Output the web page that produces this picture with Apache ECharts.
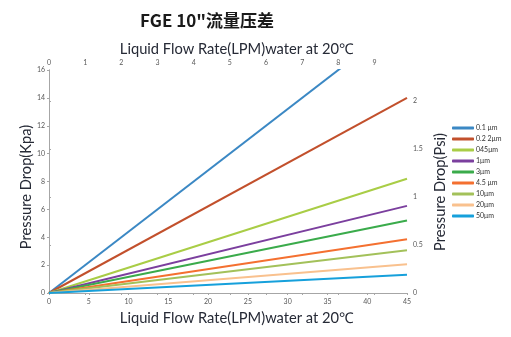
<!DOCTYPE html>
<html>
<head>
<meta charset="utf-8">
<script src="https://cdn.jsdelivr.net/npm/echarts@6/dist/echarts.min.js"></script>
<style>
  html, body { margin: 0; padding: 0; background: #fff; }
  #chart { width: 511px; height: 337px; }
</style>
</head>
<body>
<div id="chart"></div>
<script>
// Flow rate (LPM) at the two ends of each filter line
const flowLPM = [0, 45];
// Pressure drop (kPa) at 45 LPM for each cartridge rating
const ratings = ['0.1 μm', '0.2 2μm', '045μm', '1μm', '3μm', '4.5 μm', '10μm', '20μm', '50μm'];
const dropAt45 = [19.8, 14.0, 8.2, 6.25, 5.2, 3.85, 3.06, 2.06, 1.31];
const colors = ['#3b88c4', '#c2502c', '#a9cd46', '#7b3f9e', '#3aab4b', '#f47030', '#a3c15a', '#f9c18e', '#16a0db'];

// Axis ranges
const kpaMax = 16, kpaStep = 2;
const psiMax = 16 / 6.895, psiStep = 0.5;
const lpmMax = 45, lpmStep = 5;
const galMax = 45 / 4.546, galStep = 1;

const font = 'Lato, "Open Sans", sans-serif';
const axisGray = '#a6a6a6';
const titleColor = '#262a36';
const labelStyle = { fontSize: 7, color: '#595959', fontFamily: font };
const axisTitle = '14.7px ' + font;

const series = ratings.map((name, i) => ({
  name: name,
  type: 'line',
  xAxisIndex: 0,
  yAxisIndex: 0,
  data: [[flowLPM[0], 0], [flowLPM[1], dropAt45[i]]],
  symbol: 'none',
  clip: true,
  lineStyle: { width: 2, color: colors[i] },
  itemStyle: { color: colors[i] }
}));

const chart = echarts.init(document.getElementById('chart'));
chart.setOption({
  animation: false,
  backgroundColor: '#fff',
  grid: { left: 49, right: 104, top: 70, bottom: 44 },
  graphic: [
    { type: 'text', x: 207, y: 21,
      style: { text: 'FGE 10"流量压差', font: 'bold 17px "Noto Sans CJK SC", sans-serif', fill: '#1a1a1a', align: 'center', verticalAlign: 'middle' } },
    { type: 'text', x: 237, y: 49,
      style: { text: 'Liquid Flow Rate(LPM)water at 20℃', font: axisTitle, fill: titleColor, align: 'center', verticalAlign: 'middle' } },
    { type: 'text', x: 237, y: 318,
      style: { text: 'Liquid Flow Rate(LPM)water at 20℃', font: axisTitle, fill: titleColor, align: 'center', verticalAlign: 'middle' } },
    { type: 'text', x: 26, y: 187, rotation: Math.PI / 2,
      style: { text: 'Pressure Drop(Kpa)', font: axisTitle, fill: titleColor, align: 'center', verticalAlign: 'middle' } },
    { type: 'text', x: 440, y: 192, rotation: Math.PI / 2,
      style: { text: 'Pressure Drop(Psi)', font: axisTitle, fill: titleColor, align: 'center', verticalAlign: 'middle' } }
  ],
  legend: {
    orient: 'vertical',
    left: 447,
    top: 119,
    itemWidth: 22,
    itemHeight: 3,
    itemGap: 3,
    icon: 'roundRect',
    textStyle: { fontSize: 7, color: '#333', fontFamily: font, lineHeight: 8, padding: [0, 0, 0, -3] },
    data: ratings
  },
  xAxis: [
    {
      type: 'value', position: 'bottom', min: 0, max: lpmMax, interval: lpmStep,
      axisLine: { show: true, lineStyle: { color: axisGray } },
      axisTick: { show: true, length: 2, lineStyle: { color: axisGray } },
      axisLabel: Object.assign({ margin: 5 }, labelStyle),
      splitLine: { show: false }
    },
    {
      type: 'value', position: 'top', min: 0, max: galMax, interval: galStep,
      axisLine: { show: true, lineStyle: { color: axisGray } },
      axisTick: { show: true, length: 2, inside: true, lineStyle: { color: axisGray } },
      axisLabel: Object.assign({ margin: 4, showMaxLabel: false,
        formatter: v => Number.isInteger(v) ? String(v) : '' }, labelStyle),
      splitLine: { show: false }
    }
  ],
  yAxis: [
    {
      type: 'value', position: 'left', min: 0, max: kpaMax, interval: kpaStep,
      axisLine: { show: true, lineStyle: { color: axisGray } },
      axisTick: { show: true, length: 2, lineStyle: { color: axisGray } },
      axisLabel: Object.assign({ margin: 4 }, labelStyle),
      splitLine: { show: false }
    },
    {
      type: 'value', position: 'right', min: 0, max: psiMax, interval: psiStep,
      axisLine: { show: true, lineStyle: { color: axisGray } },
      axisTick: { show: true, length: 2, lineStyle: { color: axisGray } },
      axisLabel: Object.assign({ margin: 6, showMaxLabel: false,
        formatter: v => (Math.abs(v / psiStep - Math.round(v / psiStep)) < 1e-6) ? String(v) : '' }, labelStyle),
      splitLine: { show: false }
    }
  ],
  series: series
});
</script>
</body>
</html>
